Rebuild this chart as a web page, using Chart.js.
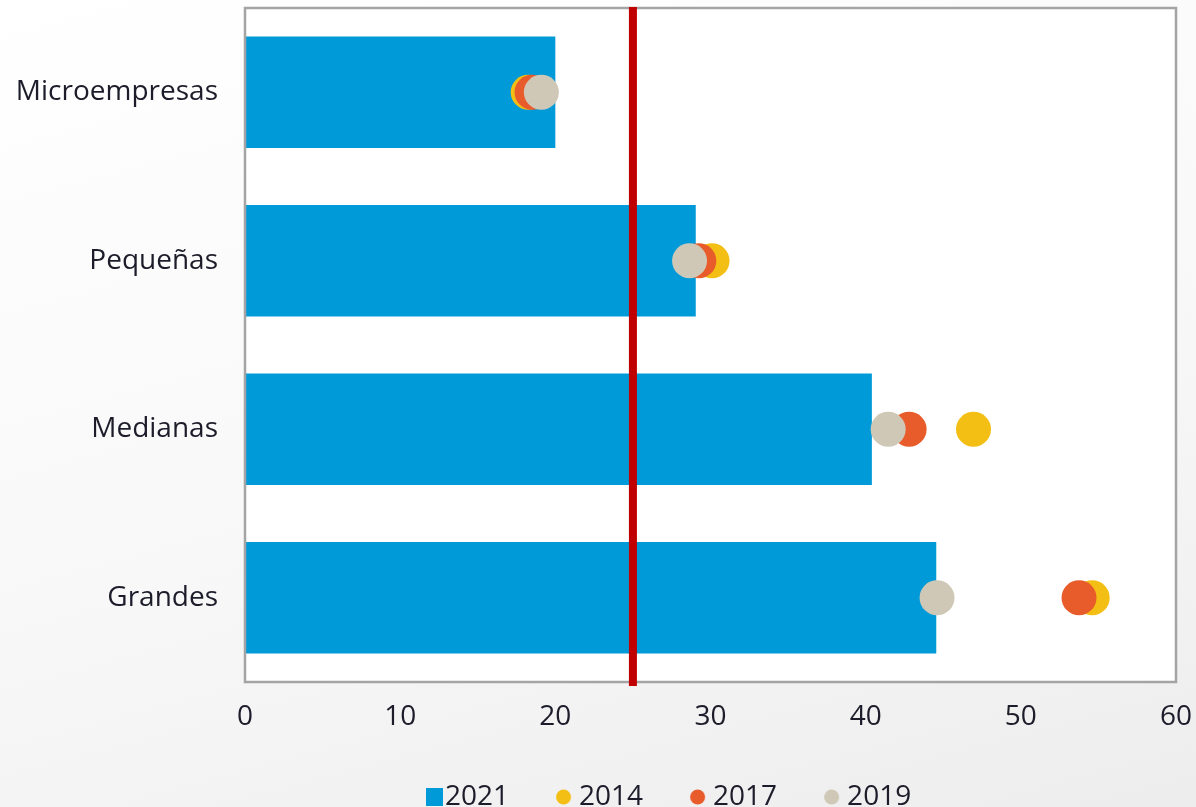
<!DOCTYPE html>
<html><head><meta charset="utf-8">
<script src="https://cdn.jsdelivr.net/npm/chart.js@4/dist/chart.umd.min.js"></script>
<style>
html,body{margin:0;padding:0;}
body{width:1196px;height:807px;background:linear-gradient(165deg,#ffffff 0%,#f8f8f8 55%,#ededed 100%);overflow:hidden;}
#wrap{position:relative;width:1196px;height:807px;}
</style></head><body>
<div id="wrap"><canvas id="c" width="1196" height="807"></canvas></div>
<script>
const categories = ['Microempresas', 'Pequeñas', 'Medianas', 'Grandes'];
const values2021 = [20.0, 29.05, 40.4, 44.55];
const values2014 = [18.25, 30.1, 46.95, 54.6];
const values2017 = [18.5, 29.25, 42.8, 53.75];
const values2019 = [19.1, 28.65, 41.45, 44.6];
const seriesLabels = ['2021', '2014', '2017', '2019'];
const xTickValues = [0, 10, 20, 30, 40, 50, 60];
const referenceValue = 25;

const colors = { c2021: '#009ad8', c2014: '#f3bf14', c2017: '#e85c2c', c2019: '#d0c8b6' };
const textColor = '#1c1c2a';
const FONT = '"Open Sans", "Noto Sans", sans-serif';
const LEGEND_PAD = 39;
const LEGEND_BOX = 17;

// legend icons: drawn on the right side of a wider canvas so they sit close to the text
function legendIcon(shape, color, size, rightGap) {
  const W = 41, H = 20;
  const c = document.createElement('canvas');
  c.width = W; c.height = H;
  const g = c.getContext('2d');
  g.fillStyle = color;
  const x1 = W - rightGap;
  if (shape === 'rect') { g.fillRect(x1 - size, (H - 18) / 2, size, 18); }
  else { g.beginPath(); g.arc(x1 - size / 2, H / 2, size / 2, 0, Math.PI * 2); g.fill(); }
  return c;
}
const icons = [
  legendIcon('rect', colors.c2021, 17, 0),
  legendIcon('circle', colors.c2014, 15, 6),
  legendIcon('circle', colors.c2017, 15, 6),
  legendIcon('circle', colors.c2019, 15, 6)
];

const plotDecor = {
  id: 'plotDecor',
  beforeDatasetsDraw(chart) {
    const { ctx, chartArea: a } = chart;
    ctx.save();
    ctx.fillStyle = '#ffffff';
    ctx.fillRect(a.left, a.top, a.right - a.left, a.bottom - a.top);
    ctx.restore();
  },
  afterDatasetDraw(chart, args) {
    if (args.index !== 0) return;
    const { ctx, chartArea: a, scales } = chart;
    ctx.save();
    ctx.strokeStyle = '#a4a4a4';
    ctx.lineWidth = 2.5;
    ctx.strokeRect(a.left, a.top, a.right - a.left, a.bottom - a.top);
    const x = scales.x.getPixelForValue(referenceValue);
    ctx.strokeStyle = '#c00000';
    ctx.lineWidth = 8;
    ctx.beginPath();
    ctx.moveTo(x, a.top - 1);
    ctx.lineTo(x, a.bottom + 4);
    ctx.stroke();
    ctx.restore();
  },
  beforeDraw(chart) {
    const lg = chart.legend;
    if (!lg || !lg.lineWidths) return;
    const cx = (lg.left + LEGEND_PAD + lg.right - lg.lineWidths[0]) / 2;
    const dx = 414 - cx;
    lg.left += dx; lg.right += dx;
    const dy = 744 - lg.top;
    lg.top += dy; lg.bottom += dy;
  }
};

const pointDs = (label, data, color, order) => ({
  type: 'line',
  label,
  data,
  showLine: false,
  backgroundColor: color,
  borderColor: color,
  borderWidth: 0,
  pointRadius: 17.5,
  pointHoverRadius: 17.5,
  pointBorderWidth: 0,
  pointStyle: 'circle',
  order
});

new Chart(document.getElementById('c'), {
  type: 'bar',
  data: {
    labels: categories,
    datasets: [
      { label: seriesLabels[0], data: values2021, backgroundColor: colors.c2021, borderWidth: 0,
        barPercentage: 0.662, categoryPercentage: 1.0, order: 3 },
      pointDs(seriesLabels[1], values2014, colors.c2014, 2),
      pointDs(seriesLabels[2], values2017, colors.c2017, 1),
      pointDs(seriesLabels[3], values2019, colors.c2019, 0)
    ]
  },
  options: {
    indexAxis: 'y',
    responsive: false,
    animation: false,
    layout: { autoPadding: false, padding: { top: 8, right: 20, left: 0, bottom: 0 } },
    scales: {
      x: {
        type: 'linear', min: 0, max: 60,
        afterBuildTicks: (s) => { s.ticks = xTickValues.map(v => ({ value: v })); },
        afterFit: (s) => {
          s.height = Math.max(20, 807 - 682 - (s.chart.legend ? s.chart.legend.height : 0));
          s.paddingLeft = 0; s.paddingRight = 0;
        },
        grid: { display: false, drawTicks: false },
        border: { display: false },
        ticks: { color: textColor, font: { family: FONT, size: 28 }, padding: 18, maxRotation: 0 }
      },
      y: {
        type: 'category',
        afterFit: (s) => { s.width = 245; s.paddingTop = 0; s.paddingBottom = 0; },
        grid: { display: false, drawTicks: false },
        border: { display: false },
        ticks: { color: textColor, font: { family: FONT, size: 28 }, padding: 27 }
      }
    },
    plugins: {
      tooltip: { enabled: false },
      legend: {
        position: 'bottom',
        align: 'center',
        labels: {
          usePointStyle: true,
          pointStyleWidth: LEGEND_BOX,
          color: textColor,
          font: { family: FONT, size: 28 },
          padding: LEGEND_PAD,
          boxHeight: 18,
          sort: (a, b) => a.datasetIndex - b.datasetIndex,
          generateLabels(chart) {
            const items = Chart.defaults.plugins.legend.labels.generateLabels(chart);
            items.forEach(it => { it.pointStyle = icons[it.datasetIndex]; });
            return items;
          }
        }
      }
    }
  },
  plugins: [plotDecor]
});
</script>
</body></html>
